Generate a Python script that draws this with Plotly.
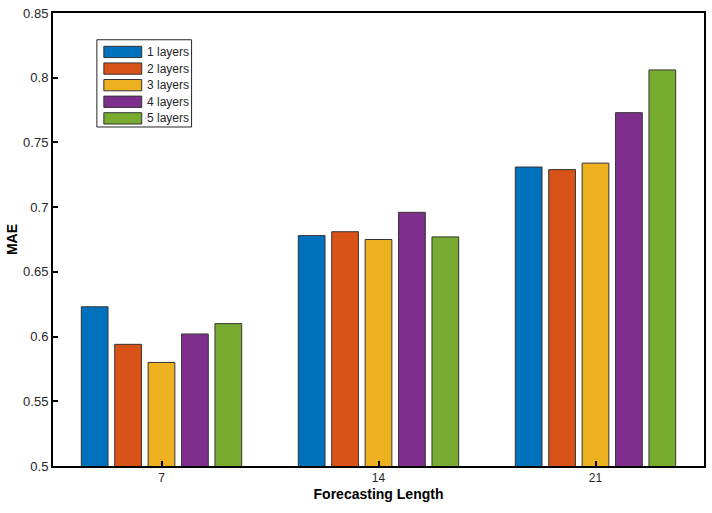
import plotly.graph_objects as go

categories = [7, 14, 21]
series_names = ["1 layers", "2 layers", "3 layers", "4 layers", "5 layers"]
values = {
    "1 layers": [0.623, 0.678, 0.731],
    "2 layers": [0.594, 0.681, 0.729],
    "3 layers": [0.580, 0.675, 0.734],
    "4 layers": [0.602, 0.696, 0.773],
    "5 layers": [0.610, 0.677, 0.806],
}
colors = ["#0072BD", "#D95319", "#EDB120", "#7E2F8E", "#77AC30"]
y_ticks = [0.5, 0.55, 0.6, 0.65, 0.7, 0.75, 0.8, 0.85]
y_tick_labels = ["0.5", "0.55", "0.6", "0.65", "0.7", "0.75", "0.8", "0.85"]

W, H = 712, 513
ML, MR, MT, MB = 53, 6, 9, 47
PW, PH = W - ML - MR, H - MT - MB


def px2paper(x, y):
    return (x - ML) / PW, (H - MB - y) / PH


fig = go.Figure()
for name, col in zip(series_names, colors):
    fig.add_trace(go.Bar(
        x=categories, y=values[name], name=name,
        marker=dict(color=col, line=dict(color="#333333", width=1)),
        base=0, showlegend=False,
    ))

# Custom MATLAB-style legend (box, wide patches, labels)
shapes = []
annotations = []
bx0, by0 = px2paper(97, 124)
bx1, by1 = px2paper(192, 36)
shapes.append(dict(type="rect", xref="paper", yref="paper", x0=bx0, y0=by0, x1=bx1, y1=by1,
                   line=dict(color="#262626", width=1), fillcolor="white", layer="above"))
for i, (name, col) in enumerate(zip(series_names, colors)):
    cy = 48.3 + i * 16.75
    px0, py0 = px2paper(104, cy + 5.7)
    px1, py1 = px2paper(142, cy - 5.7)
    shapes.append(dict(type="rect", xref="paper", yref="paper", x0=px0, y0=py0, x1=px1, y1=py1,
                       line=dict(color="#333333", width=1), fillcolor=col, layer="above"))
    tx, ty = px2paper(145, cy)
    annotations.append(dict(xref="paper", yref="paper", x=tx, y=ty, xanchor="left", yanchor="middle",
                            text=name, showarrow=False,
                            font=dict(family="Liberation Sans, Arial, sans-serif", size=12, color="#262626")))

font = dict(family="Liberation Sans, Arial, sans-serif", size=12, color="#262626")
fig.update_layout(
    width=W, height=H,
    margin=dict(l=ML, r=MR, t=MT, b=MB),
    paper_bgcolor="white", plot_bgcolor="white",
    barmode="group", bargap=0.23, bargroupgap=0.2,
    font=font,
    showlegend=False,
    shapes=shapes, annotations=annotations,
    xaxis=dict(
        range=[3.5, 24.5], tickvals=categories, ticktext=[str(c) for c in categories],
        ticks="inside", ticklen=5, tickcolor="black", tickwidth=1.5,
        showline=True, linecolor="black", linewidth=2, mirror=True,
        showgrid=False, zeroline=False,
        title=dict(text="<b>Forecasting Length</b>", font=dict(size=14, color="black"), standoff=5),
        tickfont=dict(size=12, color="#262626"),
    ),
    yaxis=dict(
        range=[0.5, 0.85], tickvals=y_ticks, ticktext=y_tick_labels,
        ticks="inside", ticklen=5, tickcolor="black", tickwidth=1.5,
        showline=True, linecolor="black", linewidth=2, mirror=True,
        showgrid=False, zeroline=False,
        title=dict(text="<b>MAE</b>", font=dict(size=14, color="black"), standoff=2),
        tickfont=dict(size=13, color="#262626"),
    ),
)
fig.write_html("out.html")
